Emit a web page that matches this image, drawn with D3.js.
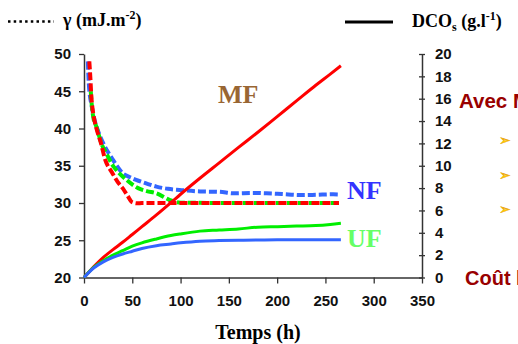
<!DOCTYPE html>
<html>
<head>
<meta charset="utf-8">
<script src="https://cdn.jsdelivr.net/npm/d3@7"></script>
<style>
  html, body { margin: 0; padding: 0; background: #fff; }
  svg { display: block; }
</style>
</head>
<body>
<div id="chart"></div>
<script>
// time ticks and axis ticks
const xTicks = [0, 50, 100, 150, 200, 250, 300, 350];
const gammaTicks = [20, 25, 30, 35, 40, 45, 50];
const dcoTicks = [0, 2, 4, 6, 8, 10, 12, 14, 16, 18, 20];

// DCOs (g/l), solid lines, right axis
const dcoTime = [0, 10, 20, 30, 40, 50, 60, 75, 90, 100, 120, 140, 160, 180, 200, 220, 240, 255, 266];
const dcoMF = [0, 0.95, 1.8, 2.5, 3.15, 3.85, 4.55, 5.6, 6.7, 7.45, 8.88, 10.26, 11.64, 13.0, 14.4, 15.8, 17.2, 18.2, 18.95];
const dcoUF = [0, 0.9, 1.5, 2.0, 2.4, 2.8, 3.1, 3.45, 3.75, 3.9, 4.15, 4.25, 4.35, 4.5, 4.55, 4.6, 4.65, 4.75, 4.85];
const dcoNF = [0, 0.85, 1.4, 1.8, 2.1, 2.35, 2.6, 2.85, 3.0, 3.1, 3.25, 3.3, 3.33, 3.35, 3.37, 3.38, 3.38, 3.38, 3.38];

// gamma (mJ/m2), dashed lines, left axis
const gammaTimeMF = [5.5, 6.5, 7.5, 9, 11, 14, 17, 22, 29, 35, 40, 45, 50, 55, 60, 100, 150, 200, 250, 264];
const gammaMF = [49, 47, 44.5, 42.5, 41, 39.5, 38.3, 35.8, 34.1, 32.8, 32, 31, 30.1, 29.95, 30, 30, 30, 30, 30, 30];
const gammaTimeUF = [7, 8, 9.5, 13, 18, 23, 30, 35, 44, 56, 65, 75, 89, 100, 150, 200, 264];
const gammaUF = [45, 43.2, 41.6, 40.2, 38, 36.7, 35, 34.2, 33.1, 32, 31.6, 31.3, 30.4, 30.05, 30, 30, 30];
const gammaTimeNF = [4, 5, 8, 11, 15, 20, 25, 30, 35, 40, 47, 54, 65, 75, 87, 99, 120, 140, 155, 175, 189, 205, 224, 240, 258, 264];
const gammaNF = [49, 46, 43, 41.1, 39.5, 38, 36.8, 35.8, 34.8, 34, 33.5, 33.1, 32.6, 32.2, 31.9, 31.75, 31.55, 31.5, 31.3, 31.35, 31.3, 31.2, 31.07, 31.1, 31.17, 31.15];

const width = 518;
const height = 344;
const sans = 'Arial, "Liberation Sans", sans-serif';
const serif = '"Times New Roman", "Liberation Serif", serif';

const svg = d3.select('#chart').append('svg')
  .attr('width', width)
  .attr('height', height);

const x = d3.scaleLinear().domain([0, 350]).range([84, 422]);
const yL = d3.scaleLinear().domain([20, 50]).range([277.5, 54]);
const yR = d3.scaleLinear().domain([0, 20]).range([277.5, 54]);

// axes
const gx = svg.append('g')
  .attr('transform', `translate(0,${yL(20)})`)
  .call(d3.axisBottom(x).tickValues(xTicks).tickSize(6).tickSizeOuter(0).tickPadding(12));

const gl = svg.append('g')
  .attr('transform', `translate(${x(0)},0)`)
  .call(d3.axisLeft(yL).tickValues(gammaTicks).tickSize(5).tickSizeOuter(0).tickPadding(8));

const gr = svg.append('g')
  .attr('transform', `translate(${x(350)},0)`)
  .call(d3.axisRight(yR).tickValues(dcoTicks).tickSize(3).tickSizeOuter(0).tickPadding(10));
gr.selectAll('.tick line').attr('x1', -3);

[gx, gl, gr].forEach(g => {
  g.select('.domain').attr('stroke', '#333').attr('stroke-width', 1.5);
  g.selectAll('.tick line').attr('stroke', '#333').attr('stroke-width', 1.3);
  g.selectAll('.tick text')
    .attr('font-family', sans)
    .attr('font-weight', 'bold')
    .attr('font-size', 15)
    .attr('fill', '#111');
});

// series
const dashed = [
  { t: gammaTimeNF, v: gammaNF, color: '#3366FF' },
  { t: gammaTimeUF, v: gammaUF, color: '#00EE00' },
  { t: gammaTimeMF, v: gammaMF, color: '#FF0000' },
];
const solid = [
  { t: dcoTime, v: dcoMF, color: '#FF0000' },
  { t: dcoTime, v: dcoUF, color: '#00EE00' },
  { t: dcoTime, v: dcoNF, color: '#3366FF' },
];

const lineL = d3.line().x(d => x(d[0])).y(d => yL(d[1])).curve(d3.curveMonotoneX);
const lineR = d3.line().x(d => x(d[0])).y(d => yR(d[1])).curve(d3.curveMonotoneX);

svg.append('g').selectAll('path')
  .data(dashed)
  .join('path')
  .attr('d', s => lineL(s.t.map((t, i) => [t, s.v[i]])))
  .attr('fill', 'none')
  .attr('stroke', s => s.color)
  .attr('stroke-width', 4)
  .attr('stroke-dasharray', '8,3');

svg.append('g').selectAll('path')
  .data(solid)
  .join('path')
  .attr('d', s => lineR(s.t.map((t, i) => [t, s.v[i]])))
  .attr('fill', 'none')
  .attr('stroke', s => s.color)
  .attr('stroke-width', 3)
  .attr('stroke-linejoin', 'round');

// series labels
const labels = [
  { text: 'MF', x: 218, y: 103, color: '#996633' },
  { text: 'NF', x: 347, y: 199, color: '#3333FF' },
  { text: 'UF', x: 347, y: 247, color: '#66FF66' },
];
svg.append('g').selectAll('text')
  .data(labels)
  .join('text')
  .attr('x', d => d.x)
  .attr('y', d => d.y)
  .attr('fill', d => d.color)
  .attr('font-family', serif)
  .attr('font-weight', 'bold')
  .attr('font-size', 26)
  .text(d => d.text);

// legend
svg.append('line')
  .attr('x1', 8).attr('x2', 54)
  .attr('y1', 21.5).attr('y2', 21.5)
  .attr('stroke', '#000')
  .attr('stroke-width', 2.5)
  .attr('stroke-dasharray', '2.5,3.2');

const gTitle = svg.append('text')
  .attr('x', 63).attr('y', 26)
  .attr('font-family', serif).attr('font-weight', 'bold').attr('font-size', 18);
gTitle.append('tspan').text('γ (mJ.m');
gTitle.append('tspan').attr('font-size', 12).attr('dy', -7).text('-2');
gTitle.append('tspan').attr('dy', 7).text(')');

svg.append('line')
  .attr('x1', 345).attr('x2', 393)
  .attr('y1', 22).attr('y2', 22)
  .attr('stroke', '#000')
  .attr('stroke-width', 3);

const dTitle = svg.append('text')
  .attr('x', 412).attr('y', 26.5)
  .attr('font-family', serif).attr('font-weight', 'bold').attr('font-size', 18);
dTitle.append('tspan').text('DCO');
dTitle.append('tspan').attr('font-size', 12).attr('dy', 4).text('s');
dTitle.append('tspan').attr('dy', -4).text(' (g.l');
dTitle.append('tspan').attr('font-size', 12).attr('dy', -7).text('-1');
dTitle.append('tspan').attr('dy', 7).text(')');

// x title
svg.append('text')
  .attr('x', 258).attr('y', 339)
  .attr('text-anchor', 'middle')
  .attr('font-family', serif).attr('font-weight', 'bold').attr('font-size', 20)
  .text('Temps (h)');

// slide text on the right (cut off by the frame, as in the original)
svg.append('text')
  .attr('x', 459).attr('y', 108)
  .attr('font-family', sans).attr('font-weight', 'bold').attr('font-size', 20.5)
  .attr('fill', '#990000')
  .text('Avec M');
svg.append('text')
  .attr('x', 465).attr('y', 285)
  .attr('font-family', sans).attr('font-weight', 'bold').attr('font-size', 20)
  .attr('fill', '#990000')
  .text('Coût l');

svg.append('g').selectAll('text')
  .data([140, 175, 209])
  .join('text')
  .attr('x', 499)
  .attr('y', d => d + 5)
  .attr('font-family', '"DejaVu Sans", sans-serif')
  .attr('font-size', 14)
  .attr('fill', '#FFCC00')
  .attr('stroke', '#E8A000')
  .attr('stroke-width', 0.4)
  .text('➢');
</script>
</body>
</html>
